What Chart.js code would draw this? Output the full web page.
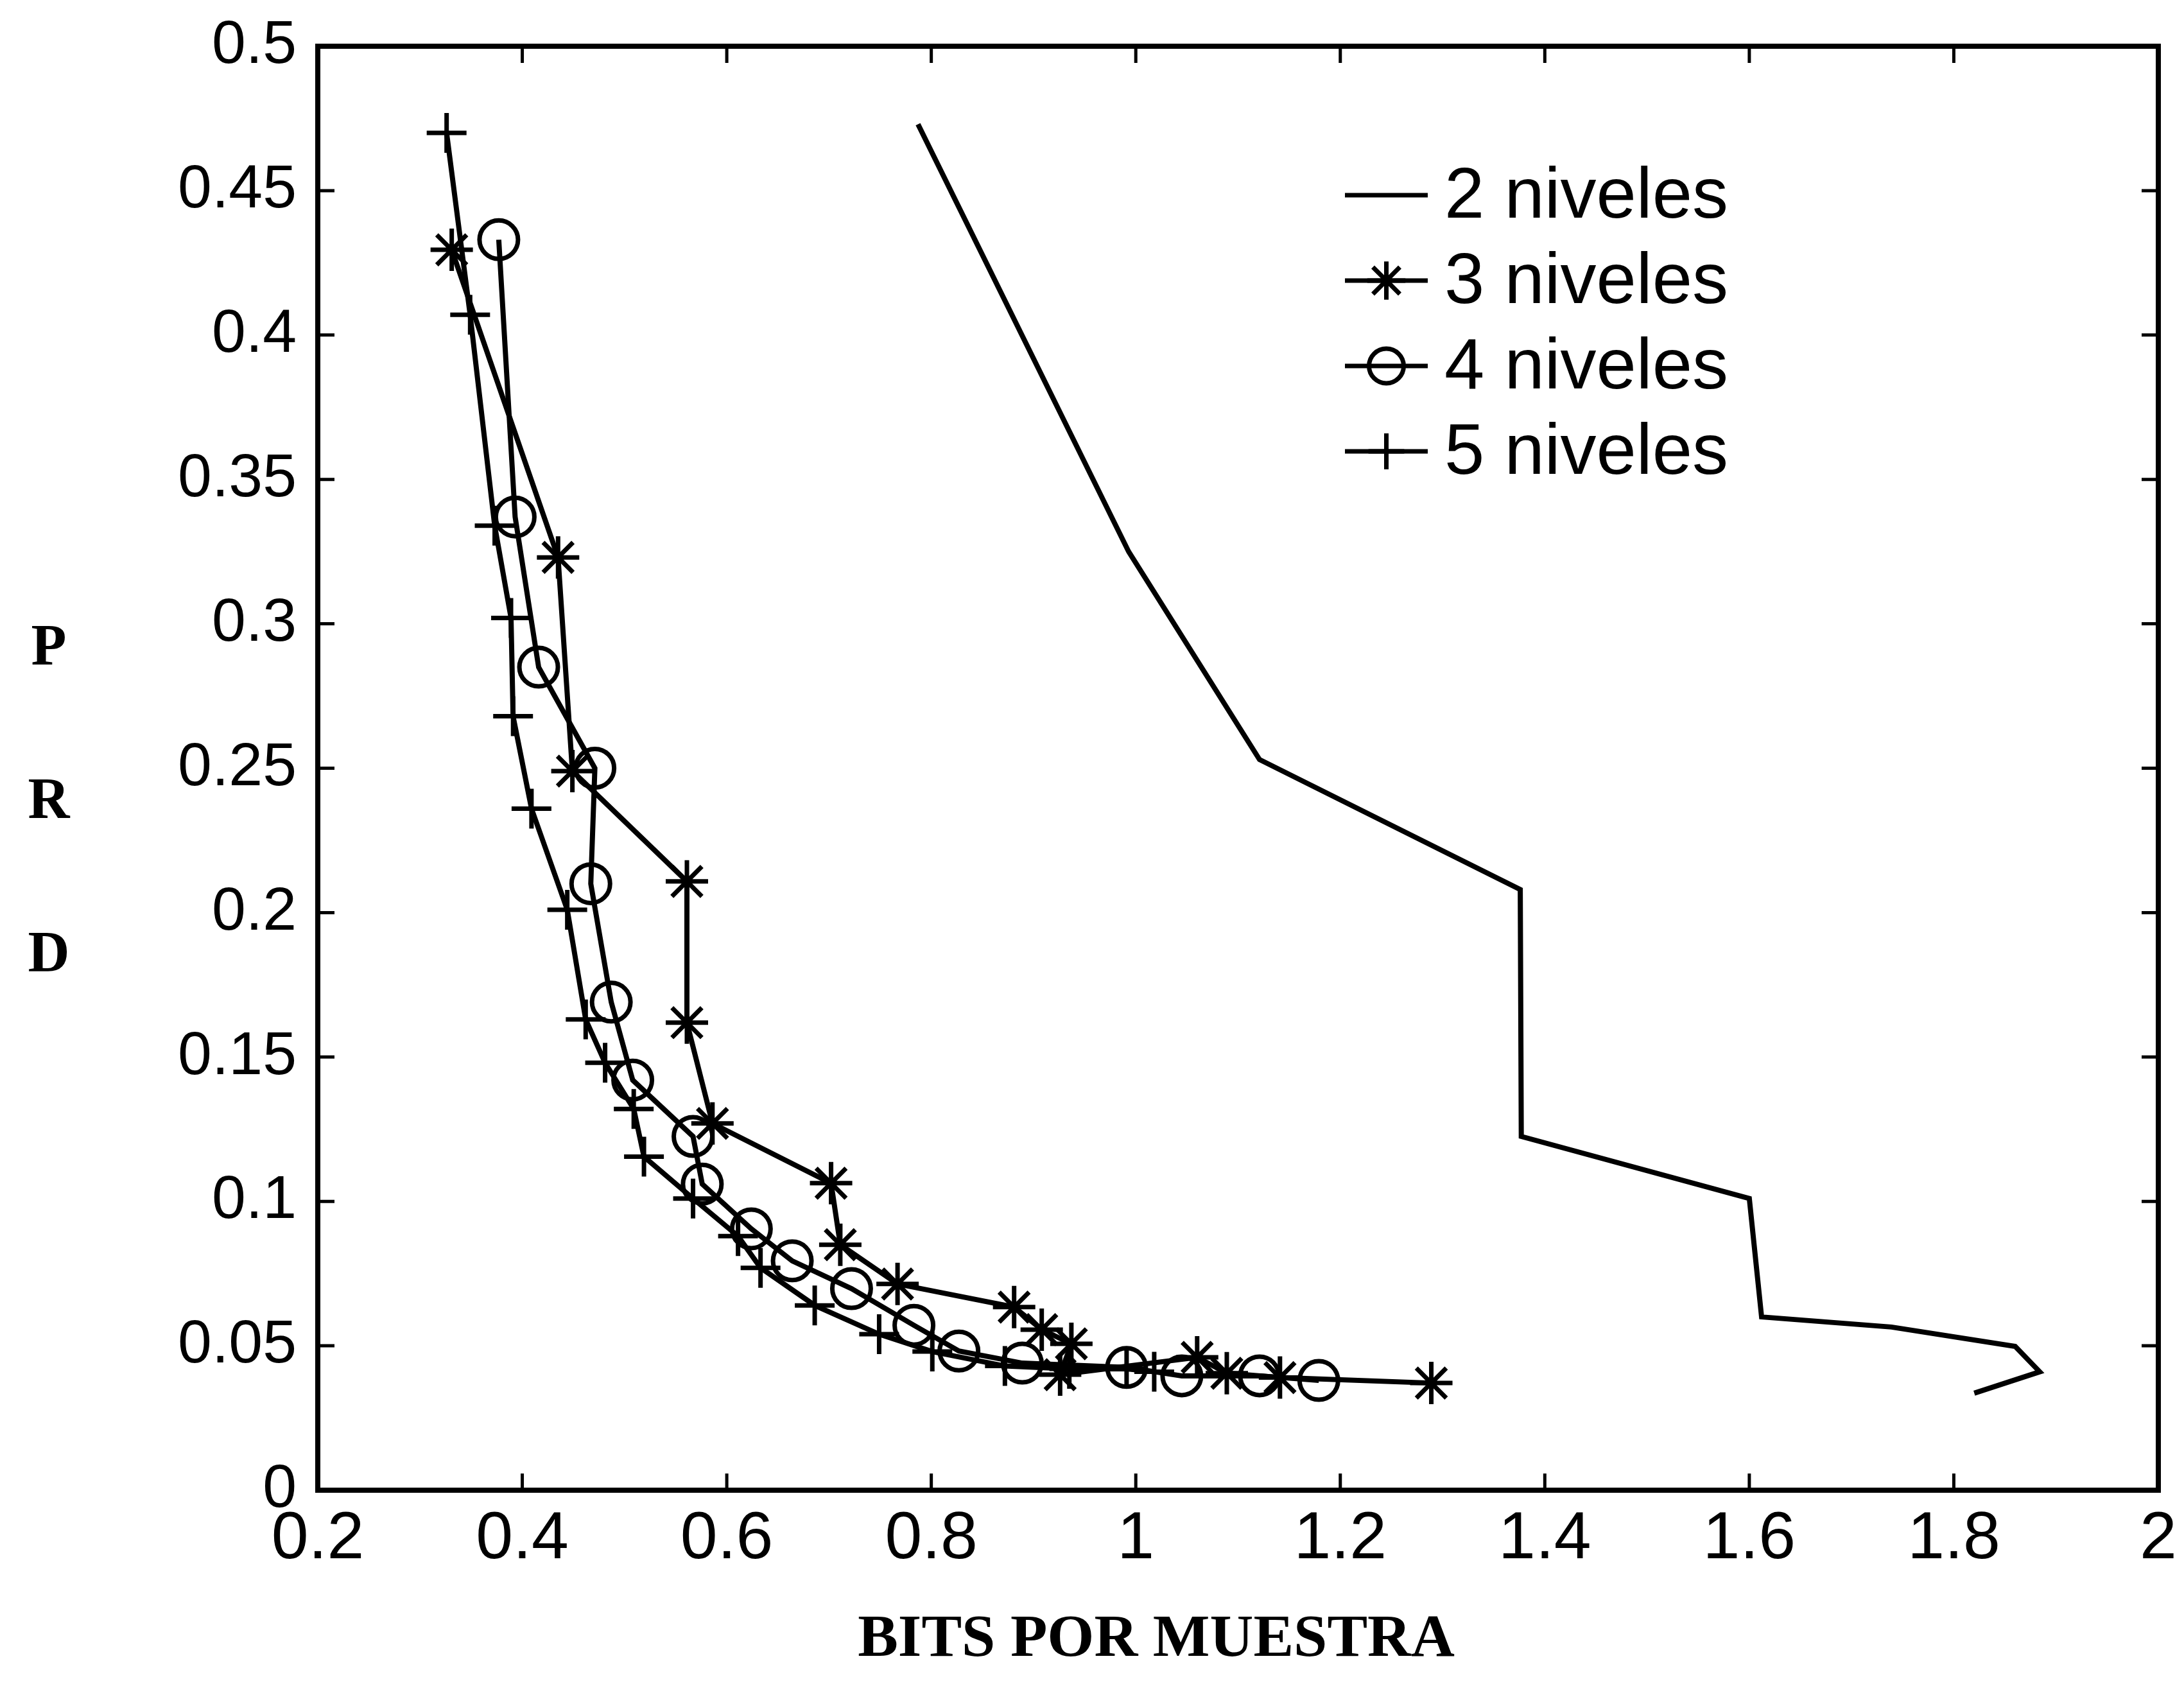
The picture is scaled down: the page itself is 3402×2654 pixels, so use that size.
<!DOCTYPE html>
<html>
<head>
<meta charset="utf-8">
<script src="https://cdn.jsdelivr.net/npm/chart.js@4.4.1/dist/chart.umd.min.js"></script>
<style>
  html, body { margin: 0; padding: 0; background: #fff; }
  canvas { display: block; }
</style>
</head>
<body>
<canvas id="myChart" width="3402" height="2654"></canvas>
<script>
// PRD vs bits por muestra, one curve per number of levels
const seriesNames = ['2 niveles', '3 niveles', '4 niveles', '5 niveles'];

const bits2 = [0.787, 0.993, 1.121, 1.376, 1.377, 1.600, 1.612, 1.739, 1.860, 1.884, 1.820];
const prd2  = [0.473, 0.325, 0.253, 0.208, 0.1225, 0.101, 0.060, 0.0565, 0.0498, 0.041, 0.0336];

const bits3 = [0.331, 0.435, 0.449, 0.561, 0.561, 0.586, 0.702, 0.711, 0.767, 0.881, 0.908, 0.937, 0.926, 1.060, 1.089, 1.141, 1.289];
const prd3  = [0.4295, 0.323, 0.249, 0.2108, 0.1619, 0.127, 0.1063, 0.085, 0.0714, 0.0634, 0.0556, 0.0507, 0.040, 0.046, 0.0405, 0.039, 0.0371];

const bits4 = [0.377, 0.393, 0.416, 0.471, 0.467, 0.487, 0.508, 0.567, 0.576, 0.624, 0.664, 0.722, 0.783, 0.827, 0.889, 0.991, 1.045, 1.121, 1.179];
const prd4  = [0.433, 0.337, 0.285, 0.250, 0.210, 0.169, 0.142, 0.1225, 0.106, 0.0905, 0.0794, 0.0698, 0.0571, 0.0482, 0.0440, 0.0425, 0.0396, 0.0396, 0.038];

const bits5 = [0.326, 0.349, 0.373, 0.389, 0.391, 0.409, 0.444, 0.462, 0.481, 0.509, 0.519, 0.567, 0.611, 0.633, 0.686, 0.749, 0.801, 0.872, 0.935, 0.991, 1.018];
const prd5  = [0.470, 0.407, 0.334, 0.302, 0.268, 0.236, 0.201, 0.163, 0.148, 0.132, 0.1155, 0.101, 0.088, 0.077, 0.064, 0.054, 0.048, 0.043, 0.042, 0.042, 0.041];

const xTicks = [0.2, 0.4, 0.6, 0.8, 1, 1.2, 1.4, 1.6, 1.8, 2];
const xTickLabels = ['0.2', '0.4', '0.6', '0.8', '1', '1.2', '1.4', '1.6', '1.8', '2'];
const yTicks = [0, 0.05, 0.1, 0.15, 0.2, 0.25, 0.3, 0.35, 0.4, 0.45, 0.5];
const yTickLabels = ['0', '0.05', '0.1', '0.15', '0.2', '0.25', '0.3', '0.35', '0.4', '0.45', '0.5'];

const xTitle = 'BITS POR MUESTRA';
const yTitle = ['P', 'R', 'D'];

function toPoints(xs, ys) {
  return xs.map((x, i) => ({ x: x, y: ys[i] }));
}

function series(label, xs, ys, style, radius) {
  return {
    label: label,
    data: toPoints(xs, ys),
    showLine: true,
    tension: 0,
    fill: false,
    borderColor: '#000',
    borderWidth: 8,
    pointStyle: style,
    pointRadius: radius,
    pointBorderWidth: 7,
    pointBorderColor: '#000',
    pointBackgroundColor: 'rgba(0,0,0,0)'
  };
}

const data = {
  datasets: [
    series(seriesNames[0], bits2, prd2, false, 0),
    series(seriesNames[1], bits3, prd3, 'star', 33),
    series(seriesNames[2], bits4, prd4, 'circle', 30),
    series(seriesNames[3], bits5, prd5, 'cross', 31)
  ]
};

// box around the axes with inward ticks on every side
const framePlugin = {
  id: 'frame',
  beforeDatasetsDraw(chart) {
    const ctx = chart.ctx;
    const a = chart.chartArea;
    const sx = chart.scales.x, sy = chart.scales.y;
    ctx.save();
    ctx.strokeStyle = '#000';
    ctx.lineWidth = 8;
    ctx.strokeRect(a.left, a.top, a.right - a.left, a.bottom - a.top);
    ctx.lineWidth = 5;
    ctx.beginPath();
    sx.ticks.forEach(t => {
      const px = sx.getPixelForValue(t.value);
      ctx.moveTo(px, a.bottom); ctx.lineTo(px, a.bottom - 26);
      ctx.moveTo(px, a.top); ctx.lineTo(px, a.top + 26);
    });
    sy.ticks.forEach(t => {
      const py = sy.getPixelForValue(t.value);
      ctx.moveTo(a.left, py); ctx.lineTo(a.left + 26, py);
      ctx.moveTo(a.right, py); ctx.lineTo(a.right - 26, py);
    });
    ctx.stroke();
    ctx.restore();
  }
};

// matlab style legend: line sample with marker in the middle
const legendPlugin = {
  id: 'matlabLegend',
  afterDatasetsDraw(chart) {
    const ctx = chart.ctx;
    const a = chart.chartArea;
    const x0 = a.left + 1600, x1 = a.left + 1729, tx = a.left + 1755;
    ctx.save();
    ctx.font = '112px "Liberation Sans", Arial, sans-serif';
    ctx.textBaseline = 'middle';
    chart.data.datasets.forEach((ds, i) => {
      const y = a.top + 232 + i * 133;
      ctx.strokeStyle = '#000';
      ctx.lineWidth = 7;
      ctx.beginPath();
      ctx.moveTo(x0, y); ctx.lineTo(x1, y);
      ctx.stroke();
      if (ds.pointStyle) {
        ctx.fillStyle = 'rgba(0,0,0,0)';
        Chart.helpers.drawPoint(ctx, {
          pointStyle: ds.pointStyle,
          radius: ds.pointRadius * 0.9,
          borderWidth: ds.pointBorderWidth,
          rotation: 0
        }, (x0 + x1) / 2, y);
      }
      ctx.fillStyle = '#000';
      ctx.fillText(ds.label, tx, y + 4);
    });
    ctx.restore();
  }
};

// axis titles: stacked letters on the left, serif caption below
const titlePlugin = {
  id: 'axisTitles',
  afterDraw(chart) {
    const ctx = chart.ctx;
    ctx.save();
    ctx.fillStyle = '#000';
    ctx.textAlign = 'center';
    ctx.textBaseline = 'middle';
    ctx.font = 'bold 90px "Liberation Serif", "Times New Roman", serif';
    yTitle.forEach((ch, i) => {
      ctx.fillText(ch, 76, 1012 + i * 239);
    });
    ctx.font = 'bold 94px "Liberation Serif", "Times New Roman", serif';
    ctx.fillText(xTitle, 1801, 2555);
    ctx.restore();
  }
};

const config = {
  type: 'scatter',
  data: data,
  options: {
    responsive: false,
    devicePixelRatio: 1,
    animation: false,
    events: [],
    layout: {
      padding: { top: 72, right: 35, bottom: 0, left: 0 }
    },
    scales: {
      x: {
        type: 'linear',
        min: 0.2,
        max: 2,
        afterBuildTicks: (scale) => { scale.ticks = xTicks.map(v => ({ value: v })); },
        afterFit: (scale) => {
          scale.height = 333;
          scale.paddingLeft = 0;
          scale.paddingRight = 0;
        },
        grid: { display: false, drawTicks: false },
        border: { display: false },
        ticks: {
          autoSkip: false,
          maxRotation: 0,
          padding: 15,
          color: '#000',
          font: { family: '"Liberation Sans Narrow", "Liberation Sans", Arial, sans-serif', size: 104 },
          callback: (value, index) => xTickLabels[index]
        }
      },
      y: {
        type: 'linear',
        min: 0,
        max: 0.5,
        afterBuildTicks: (scale) => { scale.ticks = yTicks.map(v => ({ value: v })); },
        afterFit: (scale) => {
          scale.width = 495;
          scale.paddingTop = 0;
          scale.paddingBottom = 0;
        },
        grid: { display: false, drawTicks: false },
        border: { display: false },
        ticks: {
          autoSkip: false,
          padding: 33,
          color: '#000',
          font: { family: '"Liberation Sans", Arial, sans-serif', size: 95 },
          callback: (value, index) => yTickLabels[index]
        }
      }
    },
    plugins: {
      legend: { display: false },
      tooltip: { enabled: false }
    }
  },
  plugins: [framePlugin, legendPlugin, titlePlugin]
};

var myChart = new Chart(
  document.getElementById('myChart'),
  config
);
</script>
</body>
</html>
